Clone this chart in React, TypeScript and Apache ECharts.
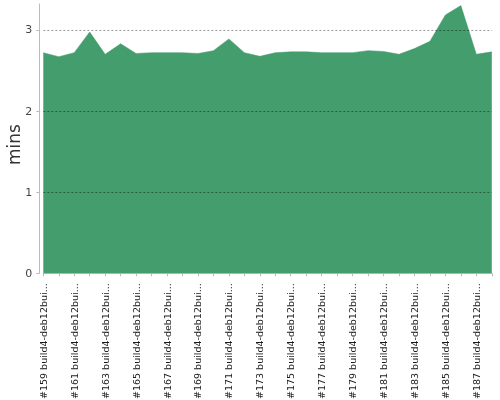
import React, { useEffect, useRef } from "react";
import * as echarts from "echarts";

const buildNumbers = [159, 160, 161, 162, 163, 164, 165, 166, 167, 168, 169, 170, 171, 172, 173, 174, 175, 176, 177, 178, 179, 180, 181, 182, 183, 184, 185, 186, 187, 188];
const categories = buildNumbers.map((n) => `#${n} build4-deb12bui...`);
const durations = [2.72, 2.67, 2.72, 2.975, 2.7, 2.83, 2.71, 2.72, 2.72, 2.72, 2.71, 2.745, 2.89, 2.72, 2.675, 2.72, 2.73, 2.73, 2.72, 2.72, 2.72, 2.745, 2.735, 2.7, 2.77, 2.86, 3.185, 3.3, 2.7, 2.73];
const yTicks = [0, 1, 2, 3];

export default function App() {
  const ref = useRef<HTMLDivElement>(null);
  useEffect(() => {
    if (!ref.current) return;
    const chart = echarts.init(ref.current, undefined, { renderer: "svg" });
    chart.setOption({
      animation: false,
      grid: { left: 43.3, right: 8.2, top: 4, bottom: 126.7, containLabel: false, outerBoundsMode: "none" },
      xAxis: {
        type: "category",
        data: categories,
        boundaryGap: false,
        offset: 5,
        axisLine: { show: true, lineStyle: { color: "#bbb", width: 1 } },
        axisTick: { show: true, interval: 0, length: 3, lineStyle: { color: "#bbb" } },
        axisLabel: {
          rotate: 90,
          interval: 1,
          margin: 5,
          fontSize: 9.5,
          fontFamily: "DejaVu Sans",
          color: "#1a1a1a",
        },
        splitLine: { show: false },
      },
      yAxis: {
        type: "value",
        min: yTicks[0],
        max: 3.32,
        interval: 1,
        offset: 4,
        z: 5,
        name: "mins",
        nameLocation: "middle",
        nameGap: 17,
        nameMoveOverlap: false,
        nameTextStyle: { fontSize: 17, fontFamily: "DejaVu Sans", color: "#333", padding: [0, 12, 0, 0] },
        axisLine: { show: true, lineStyle: { color: "#bbb", width: 1 } },
        axisTick: { show: true, length: 3, lineStyle: { color: "#bbb" } },
        axisLabel: {
          margin: 7,
          fontSize: 11,
          fontFamily: "DejaVu Sans",
          color: "#444",
          showMaxLabel: false,
          formatter: (v: number) => (yTicks.includes(v) ? String(v) : ""),
        },
        splitLine: {
          show: true,
          showMaxLine: false,
          showMinLine: false,
          lineStyle: { color: "rgba(0,0,0,0.4)", type: [2, 2], width: 1 },
        },
      },
      series: [
        {
          type: "line",
          data: durations,
          showSymbol: false,
          symbol: "none",
          lineStyle: { width: 0.5, color: "#449d6c" },
          areaStyle: { color: "#449d6c", opacity: 1 },
          z: 2,
        },
      ],
    });
    return () => chart.dispose();
  }, []);
  return <div ref={ref} style={{ position: "fixed", left: 0, top: 0, width: 500, height: 400 }} />;
}
